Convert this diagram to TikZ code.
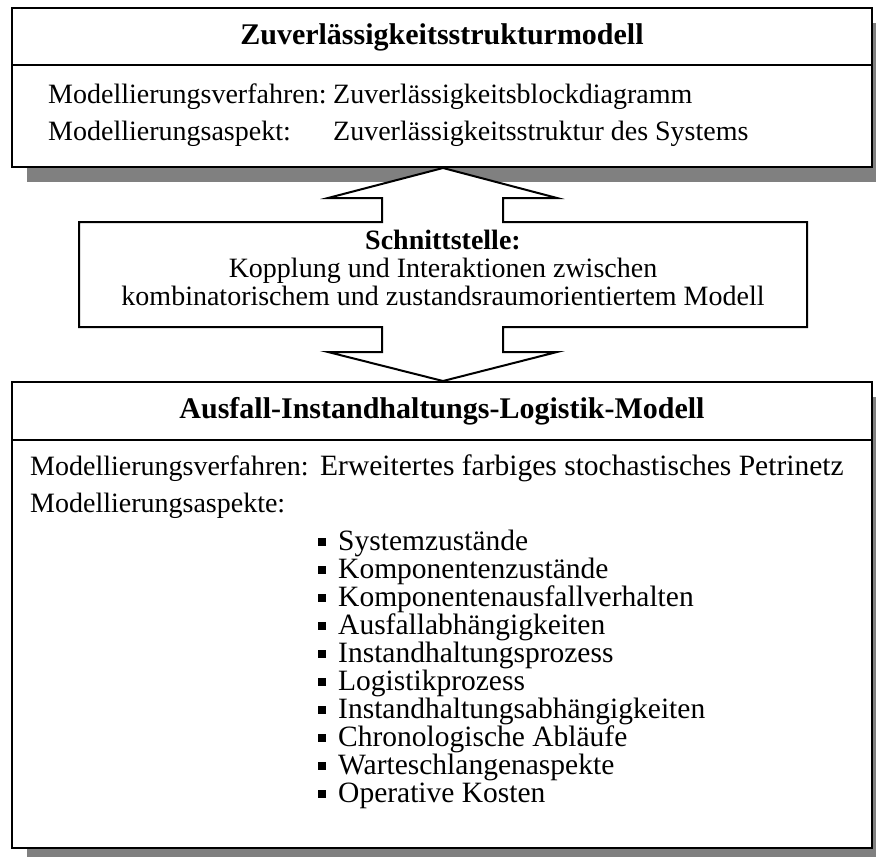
\documentclass[tikz,border=0pt]{standalone}
\usepackage{fontspec}
\setmainfont{Liberation Serif}
\begin{document}
\begin{tikzpicture}[x=1pt,y=-1pt,
  panel/.style={draw=black,line width=2.2pt,fill=white},
  dropshadow/.style={fill=black!50,draw=none},
  rule line/.style={draw=black,line width=2pt},
  title/.style={font=\fontsize{30}{34}\selectfont\bfseries,inner sep=0pt},
  body/.style={font=\fontsize{28}{32}\selectfont,inner sep=0pt},
  lowbody/.style={font=\fontsize{29.5}{32}\selectfont,inner sep=0pt},
  linker/.style={draw=black,line width=2pt,fill=white,line join=miter}]
\newcommand{\sqbullet}{\makebox[20pt][l]{\raisebox{4pt}{\rule{8pt}{8pt}}}}
\useasboundingbox (0,0) rectangle (876,857);

% shadows behind the two panels
\fill[dropshadow] (27,23) rectangle (887,182);
\fill[dropshadow] (27,397) rectangle (887,863);

% upper panel
\draw[panel] (12,8) rectangle (872,167);
\coordinate (ta) at (12,65);
\coordinate (tb) at (872,65);
\draw[rule line] (ta) -- (tb);
\node[title] (t1) at (442,37) {Zuverlässigkeitsstrukturmodell};
\node[body,anchor=mid west] (r1a) at (48,101) {Modellierungsverfahren:};
\node[body,anchor=mid west] (r1b) at (333,101) {Zuverlässigkeitsblockdiagramm};
\node[body,anchor=mid west] (r2a) at (48,138) {Modellierungsaspekt:};
\node[body,anchor=mid west] (r2b) at (333,138) {Zuverlässigkeitsstruktur des Systems};

% interface: double arrow with a wide body
\draw[linker] (443,168) -- (557,198) -- (503,198) -- (503,222) -- (807,222)
  -- (807,327) -- (503,327) -- (503,352) -- (557,352) -- (443,381)
  -- (328,352) -- (382,352) -- (382,327) -- (79,327) -- (79,222)
  -- (382,222) -- (382,198) -- (328,198) -- cycle;
\node[body,font=\fontsize{28}{32}\selectfont\bfseries,anchor=mid] (s1) at (443,247) {Schnittstelle:};
\node[body,anchor=mid] (s2) at (443,275) {Kopplung und Interaktionen zwischen};
\node[body,anchor=mid] (s3) at (443,303) {kombinatorischem und zustandsraumorientiertem Modell};

% lower panel
\draw[panel] (12,382) rectangle (872,848);
\coordinate (ba) at (12,440);
\coordinate (bb) at (872,440);
\draw[rule line] (ba) -- (bb);
\node[title] (t2) at (442,411) {Ausfall-Instandhaltungs-Logistik-Modell};
\node[body,anchor=mid west] (m1a) at (30,473) {Modellierungsverfahren:};
\node[lowbody,anchor=mid west] (m1b) at (320,473) {Erweitertes farbiges stochastisches Petrinetz};
\node[body,anchor=mid west] (m2a) at (30,510) {Modellierungsaspekte:};
\foreach \txt [count=\i] in {Systemzustände,Komponentenzustände,Komponentenausfallverhalten,%
  Ausfallabhängigkeiten,Instandhaltungsprozess,Logistikprozess,%
  Instandhaltungsabhängigkeiten,Chronologische Abläufe,Warteschlangenaspekte,Operative Kosten}
  \node[lowbody,anchor=mid west] (li\i) at (318,{520+28*\i}) {\sqbullet\txt};
\end{tikzpicture}
\end{document}
